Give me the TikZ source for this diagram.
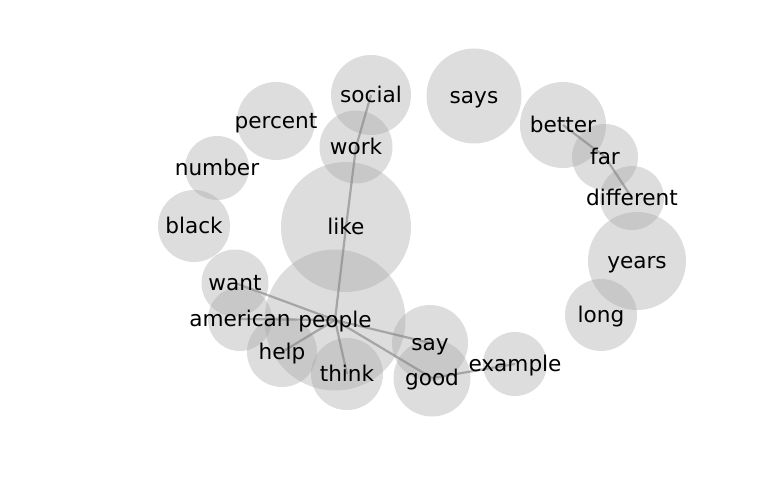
\documentclass[tikz,border=0pt]{standalone}
\usepackage{fontspec}
\setmainfont{DejaVu Sans}
\begin{document}
\begin{tikzpicture}[x=1pt,y=-1pt,
  bub/.style={circle, fill=black!35, fill opacity=0.38, draw=none, inner sep=0pt, minimum size=#1},
  wd/.style={font=\fontsize{21.6}{26}\selectfont, text=black, inner sep=0pt, text height=0.76em, text depth=0.21em, yshift=-5pt},
  link/.style={draw=black!50, line width=2.2pt, draw opacity=0.6}]
\useasboundingbox (0,0) rectangle (768,500);
% bubbles
\node[bub=80pt]  (social)    at (371,95)  {};
\node[bub=78pt]  (percent)   at (276,121) {};
\node[bub=64pt]  (number)    at (217,168) {};
\node[bub=72pt]  (black)     at (194,226) {};
\node[bub=73pt]  (work)      at (356,147) {};
\node[bub=130pt] (like)      at (346,227) {};
\node[bub=67pt]  (want)      at (235,283) {};
\node[bub=141pt] (people)    at (335,320) {};
\node[bub=64pt]  (american)  at (240,319) {};
\node[bub=70pt]  (help)      at (282,352) {};
\node[bub=72pt]  (think)     at (347,374) {};
\node[bub=76pt]  (say)       at (430,343) {};
\node[bub=77pt]  (good)      at (432,378) {};
\node[bub=64pt]  (example)   at (515,364) {};
\node[bub=95pt]  (says)      at (474,96)  {};
\node[bub=86pt]  (better)    at (563,125) {};
\node[bub=66pt]  (far)       at (605,157) {};
\node[bub=64pt]  (different) at (632,198) {};
\node[bub=98pt]  (years)     at (637,261) {};
\node[bub=72pt]  (long)      at (601,315) {};
% links
\draw[link] (social.center) -- (work.center) -- (like.center) -- (people.center);
\foreach \t in {want,american,help,think,say,good}
  \draw[link] (people.center) -- (\t.center);
\draw[link] (good.center) -- (example.center);
\draw[link] (better.center) -- (far.center) -- (different.center);
% words
\foreach \t in {social,percent,number,black,work,like,want,people,american,help,think,say,good,example,says,better,far,different,years,long}
  \node[wd] (w-\t) at (\t.center) {\t};
\end{tikzpicture}
\end{document}
